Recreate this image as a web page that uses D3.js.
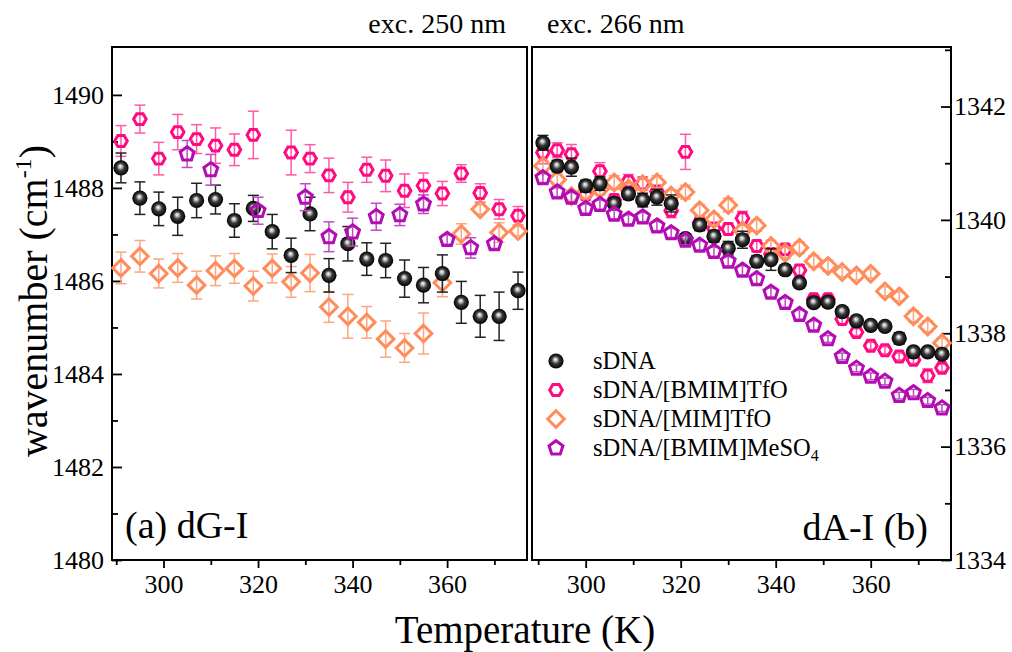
<!DOCTYPE html>
<html>
<head>
<meta charset="utf-8">
<script src="https://d3js.org/d3.v7.min.js"></script>
<style>
 body {margin:0; background:#fff;}
 svg {display:block; font-family:"Liberation Serif","Times New Roman",serif;}
</style>
</head>
<body>
<div id="contenedor"></div>
<script>
// ---- data: (a) dG-I band, exc. 250 nm ----
var tG      = [291,295,299,303,307,311,315,319,323,327,331,335,339,343,347,351,355,359,363,367,371,375];
var gDNA    = [1488.43,1487.78,1487.55,1487.39,1487.73,1487.75,1487.30,1487.56,1487.06,1486.55,1487.44,1486.12,1486.80,1486.47,1486.44,1486.05,1485.91,1486.16,1485.54,1485.24,1485.24,1485.79];
var gDNAerr = [0.32,0.35,0.36,0.41,0.37,0.31,0.36,0.28,0.37,0.37,0.36,0.36,0.37,0.35,0.37,0.40,0.38,0.40,0.45,0.45,0.52,0.40];
var gMT     = [1486.28,1486.53,1486.16,1486.28,1485.91,1486.22,1486.27,1485.89,1486.27,1485.98,1486.17,1485.44,1485.24,1485.11,1484.75,1484.56,1484.87,1485.96,1487.01,1487.54,1487.04,1487.07];
var gMTerr  = [0.34,0.34,0.31,0.31,0.30,0.32,0.32,0.32,0.31,0.33,0.40,0.33,0.47,0.34,0.39,0.31,0.44,0.30,0.22,0.10,0.21,0.10];
var tGB     = [291,295,299,303,307,311,315,319,327,331,335,339,343,347,351,355,359,363,367,371,375];
var gBT     = [1489.01,1489.48,1488.63,1489.20,1489.05,1488.91,1488.82,1489.14,1488.76,1488.63,1488.27,1487.80,1488.39,1488.26,1487.94,1488.05,1487.88,1488.31,1487.89,1487.54,1487.40];
var gBTerr  = [0.33,0.30,0.35,0.38,0.31,0.38,0.34,0.51,0.48,0.30,0.37,0.32,0.27,0.34,0.36,0.27,0.26,0.19,0.20,0.21,0.20];
var tGM     = [305,310,320,330,335,340,345,350,355,360,365,370];
var gMS     = [1488.73,1488.39,1487.51,1487.80,1486.95,1487.05,1487.38,1487.42,1487.65,1486.89,1486.71,1486.80];
var gMSerr  = [0.29,0.33,0.29,0.29,0.32,0.30,0.29,0.23,0.20,0.10,0.22,0.10];

// ---- data: (b) dA-I band, exc. 266 nm ----
var tA      = [291,294,297,300,303,306,309,312,315,318,321,324,327,330,333,336,339,342,345,348,351,354,357,360,363,366,369,372,375];
var aDNA    = [1341.36,1340.95,1340.93,1340.60,1340.64,1340.29,1340.46,1340.35,1340.40,1340.29,1339.67,1339.91,1339.71,1339.50,1339.65,1339.27,1339.30,1339.12,1338.89,1338.54,1338.55,1338.38,1338.22,1338.14,1338.12,1337.91,1337.67,1337.67,1337.63];
var aDNAerr = [0.13,0.10,0.16,0.10,0.12,0.10,0.10,0.12,0.14,0.15,0.08,0.10,0.10,0.12,0.15,0.10,0.19,0.08,0.08,0.08,0.08,0.06,0.06,0.06,0.06,0.10,0.06,0.06,0.06];
var aBT     = [1341.19,1341.23,1341.16,1340.45,1340.86,1340.35,1340.68,1340.64,1340.50,1340.16,1341.20,1339.95,1339.85,1339.84,1340.03,1339.54,1339.40,1339.48,1339.11,1338.60,1338.60,1338.25,1338.02,1337.78,1337.70,1337.59,1337.53,1337.25,1337.39];
var aBTerr  = [0.20,0.13,0.17,0.10,0.15,0.10,0.12,0.12,0.10,0.12,0.31,0.10,0.10,0.10,0.12,0.10,0.10,0.10,0.10,0.08,0.08,0.08,0.06,0.06,0.06,0.06,0.06,0.12,0.06];
var aMT     = [1340.95,1340.71,1340.42,1340.48,1340.54,1340.66,1340.55,1340.63,1340.66,1340.43,1340.49,1340.17,1340.01,1340.26,1339.81,1339.90,1339.54,1339.42,1339.51,1339.27,1339.19,1339.08,1339.02,1339.05,1338.74,1338.65,1338.30,1338.12,1337.83];
var aMTerr  = [0.10,0.10,0.10,0.10,0.10,0.12,0.10,0.10,0.12,0.10,0.12,0.10,0.10,0.12,0.10,0.10,0.10,0.10,0.10,0.10,0.10,0.08,0.08,0.08,0.08,0.08,0.10,0.10,0.08];
var aMS     = [1340.74,1340.49,1340.40,1340.20,1340.27,1340.10,1340.01,1340.05,1339.89,1339.77,1339.64,1339.55,1339.44,1339.27,1339.11,1338.96,1338.72,1338.54,1338.33,1338.14,1337.90,1337.59,1337.38,1337.24,1337.15,1336.90,1336.95,1336.81,1336.68];
var aMSerr  = [0.08,0.08,0.08,0.08,0.08,0.08,0.08,0.08,0.08,0.08,0.08,0.08,0.08,0.08,0.08,0.08,0.08,0.08,0.08,0.08,0.06,0.06,0.06,0.06,0.06,0.06,0.06,0.06,0.06];

var legendNames = ["sDNA", "sDNA/[BMIM]TfO", "sDNA/[MIM]TfO", "sDNA/[BMIM]MeSO"];
var xMajor = [300,320,340,360];
var xMinor = [290,310,330,350,370];
var gMajor = [1480,1482,1484,1486,1488,1490];
var gMinor = [1481,1483,1485,1487,1489];
var aMajor = [1334,1336,1338,1340,1342];
var aMinor = [1335,1337,1339,1341,1343];

var width = 1012, height = 652;
var top_ = 47, bottom = 560;
var svg = d3.select("#contenedor").append("svg").attr("width", width).attr("height", height);

// gradient for the black spheres
var grad = svg.append("defs").append("radialGradient").attr("id", "ball")
  .attr("cx", "0.5").attr("cy", "0.5").attr("r", "0.5").attr("fx", "0.45").attr("fy", "0.38");
grad.append("stop").attr("offset", "0%").attr("stop-color", "#ffffff");
grad.append("stop").attr("offset", "22%").attr("stop-color", "#bdbdbd");
grad.append("stop").attr("offset", "50%").attr("stop-color", "#3a3a3a");
grad.append("stop").attr("offset", "100%").attr("stop-color", "#000000");

function poly(n, r, rot) {
  var p = [];
  for (var i = 0; i < n; i++) {
    var a = rot + i * 2 * Math.PI / n;
    p.push([r * Math.cos(a), r * Math.sin(a)]);
  }
  return "M" + p.map(function(q){ return q[0].toFixed(2) + "," + q[1].toFixed(2); }).join("L") + "Z";
}

var styles = {
  dna:  {color: "#000", bar: "#222"},
  bt:   {color: "#ff0a80", bar: "#ff5aa8", shape: poly(6, 6.3, 0)},
  mt:   {color: "#ff8c5a", bar: "#ffa582", shape: poly(4, 8.3, -Math.PI/2)},
  ms:   {color: "#b30cb3", bar: "#c24ac2", shape: poly(5, 7.3, -Math.PI/2)}
};

function drawMarker(g, st, x, y) {
  if (!st.shape) {
    g.append("circle").attr("cx", x).attr("cy", y).attr("r", 7.6).attr("fill", "url(#ball)");
  } else {
    g.append("path").attr("d", st.shape).attr("transform", "translate(" + x + "," + y + ")")
      .attr("fill", "none").attr("stroke", st.color).attr("stroke-width", 3);
  }
}

function series(g, x, y, ts, vs, es, st) {
  var sg = g.append("g");
  ts.forEach(function(t, i) {
    var cx = x(t), y0 = y(vs[i] - es[i]), y1 = y(vs[i] + es[i]);
    sg.append("line").attr("x1", cx).attr("x2", cx).attr("y1", y0).attr("y2", y1)
      .attr("stroke", st.bar).attr("stroke-width", 1.5);
    [y0, y1].forEach(function(yy) {
      sg.append("line").attr("x1", cx - 5.5).attr("x2", cx + 5.5).attr("y1", yy).attr("y2", yy)
        .attr("stroke", st.bar).attr("stroke-width", 1.5);
    });
  });
  ts.forEach(function(t, i) { drawMarker(sg, st, x(t), y(vs[i])); });
}

function panel(x0, x1, tdom, ydom, yMaj, yMin, side) {
  var x = d3.scaleLinear().domain(tdom).range([x0, x1]);
  var y = d3.scaleLinear().domain(ydom).range([bottom, top_]);
  var g = svg.append("g");
  // x axis
  var xa = g.append("g").attr("transform", "translate(0," + bottom + ")")
    .call(d3.axisBottom(x).tickValues(xMajor).tickSize(8).tickPadding(7).tickFormat(d3.format("d")));
  var xm = g.append("g").attr("transform", "translate(0," + bottom + ")")
    .call(d3.axisBottom(x).tickValues(xMinor).tickSize(5).tickFormat(""));
  // y axis with inward ticks
  var ax = side === "left" ? d3.axisLeft(y) : d3.axisRight(y);
  var ya = g.append("g").attr("transform", "translate(" + (side === "left" ? x0 : x1) + ",0)")
    .call(ax.tickValues(yMaj).tickSize(-10).tickPadding(side === "left" ? 8 : 3).tickFormat(d3.format("d")));
  var ax2 = side === "left" ? d3.axisLeft(y) : d3.axisRight(y);
  var ym = g.append("g").attr("transform", "translate(" + (side === "left" ? x0 : x1) + ",0)")
    .call(ax2.tickValues(yMin).tickSize(-6).tickFormat(""));
  [xa, xm, ya, ym].forEach(function(a) {
    a.select(".domain").remove();
    a.selectAll("line").attr("stroke", "#000").attr("stroke-width", 1.8);
    a.selectAll("text").attr("font-family", "Liberation Serif, serif").attr("font-size", 26).attr("fill", "#000");
  });
  // frame
  g.append("rect").attr("x", x0).attr("y", top_).attr("width", x1 - x0).attr("height", bottom - top_)
    .attr("fill", "none").attr("stroke", "#000").attr("stroke-width", 2);
  return {g: g, x: x, y: y};
}

var L = panel(112, 527, [289.1, 376.9], [1480, 1491.03], gMajor, gMinor, "left");
var R = panel(532, 951, [288.7, 376.9], [1334, 1343.05], aMajor, aMinor, "right");

series(L.g, L.x, L.y, tGB, gBT, gBTerr, styles.bt);
series(L.g, L.x, L.y, tG, gMT, gMTerr, styles.mt);
series(L.g, L.x, L.y, tG, gDNA, gDNAerr, styles.dna);
series(L.g, L.x, L.y, tGM, gMS, gMSerr, styles.ms);

series(R.g, R.x, R.y, tA, aBT, aBTerr, styles.bt);
series(R.g, R.x, R.y, tA, aMT, aMTerr, styles.mt);
series(R.g, R.x, R.y, tA, aDNA, aDNAerr, styles.dna);
series(R.g, R.x, R.y, tA, aMS, aMSerr, styles.ms);

// legend
var leg = svg.append("g");
var legSt = [styles.dna, styles.bt, styles.mt, styles.ms];
legendNames.forEach(function(n, i) {
  var yy = 361 + i * 29;
  drawMarker(leg, legSt[i], 556, yy);
  var t = leg.append("text").attr("x", 593).attr("y", yy + 8).attr("font-size", 24.5).text(n);
  if (i === 3) t.append("tspan").attr("font-size", 16).attr("dy", 5).text("4");
});

// texts
svg.append("text").attr("x", 125).attr("y", 538).attr("font-size", 38).text("(a) dG-I");
svg.append("text").attr("x", 928).attr("y", 540).attr("font-size", 38).attr("text-anchor", "end").text("dA-I (b)");
svg.append("text").attr("x", 506).attr("y", 33).attr("font-size", 28).attr("text-anchor", "end").text("exc. 250 nm");
svg.append("text").attr("x", 547).attr("y", 33).attr("font-size", 28).text("exc. 266 nm");
svg.append("text").attr("x", 525).attr("y", 643).attr("font-size", 39).attr("text-anchor", "middle").text("Temperature (K)");
var yl = svg.append("text").attr("transform", "translate(47,301) rotate(-90)")
  .attr("font-size", 40).attr("text-anchor", "middle");
yl.append("tspan").text("wavenumber (cm");
yl.append("tspan").attr("font-size", 24).attr("dy", -16).text("-1");
yl.append("tspan").attr("dy", 16).text(")");
</script>
</body>
</html>
